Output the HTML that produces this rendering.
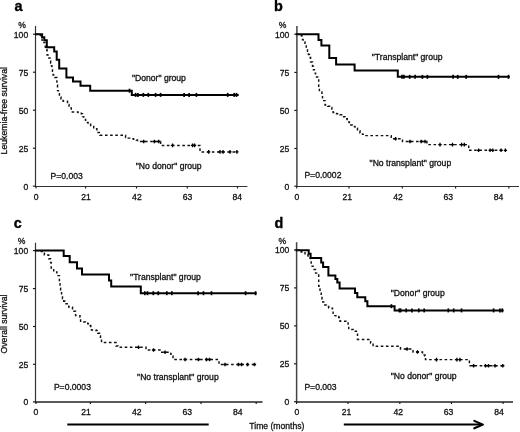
<!DOCTYPE html>
<html><head><meta charset="utf-8"><style>
html,body{margin:0;padding:0;background:#fff;}
svg{display:block;font-family:"Liberation Sans", sans-serif;filter:grayscale(1);}
text{fill:#111;stroke:#111;stroke-width:0.3px;}
text.L{fill:#000;stroke:#000;stroke-width:0.35px;}
</style></head><body>
<svg width="520" height="432" viewBox="0 0 520 432">
<rect width="520" height="432" fill="#fff"/>
<line x1="35.5" y1="26" x2="35.5" y2="187.1" stroke="#333" stroke-width="1.2"/>
<line x1="34.9" y1="186.5" x2="247.4" y2="186.5" stroke="#333" stroke-width="1.2"/>
<line x1="32.9" y1="34.2" x2="35.5" y2="34.2" stroke="#1a1a1a" stroke-width="1.15"/>
<line x1="32.9" y1="72.2" x2="35.5" y2="72.2" stroke="#1a1a1a" stroke-width="1.15"/>
<line x1="32.9" y1="110.2" x2="35.5" y2="110.2" stroke="#1a1a1a" stroke-width="1.15"/>
<line x1="32.9" y1="148.2" x2="35.5" y2="148.2" stroke="#1a1a1a" stroke-width="1.15"/>
<line x1="32.9" y1="186.2" x2="35.5" y2="186.2" stroke="#1a1a1a" stroke-width="1.15"/>
<line x1="36" y1="186.5" x2="36" y2="188.5" stroke="#1a1a1a" stroke-width="1.15"/>
<line x1="85.6" y1="186.5" x2="85.6" y2="188.5" stroke="#1a1a1a" stroke-width="1.15"/>
<line x1="136.5" y1="186.5" x2="136.5" y2="188.5" stroke="#1a1a1a" stroke-width="1.15"/>
<line x1="187.3" y1="186.5" x2="187.3" y2="188.5" stroke="#1a1a1a" stroke-width="1.15"/>
<line x1="237.5" y1="186.5" x2="237.5" y2="188.5" stroke="#1a1a1a" stroke-width="1.15"/>
<text x="28.2" y="37.6" font-size="8.6" text-anchor="end" font-weight="normal" >100</text>
<text x="28.2" y="75.60000000000001" font-size="8.6" text-anchor="end" font-weight="normal" >75</text>
<text x="28.2" y="113.60000000000001" font-size="8.6" text-anchor="end" font-weight="normal" >50</text>
<text x="28.2" y="151.6" font-size="8.6" text-anchor="end" font-weight="normal" >25</text>
<text x="28.2" y="189.6" font-size="8.6" text-anchor="end" font-weight="normal" >0</text>
<text x="36.1" y="200" font-size="8.6" text-anchor="middle" font-weight="normal" >0</text>
<text x="86.1" y="200" font-size="8.6" text-anchor="middle" font-weight="normal" >21</text>
<text x="136.9" y="200" font-size="8.6" text-anchor="middle" font-weight="normal" >42</text>
<text x="187.6" y="200" font-size="8.6" text-anchor="middle" font-weight="normal" >63</text>
<text x="237.3" y="200" font-size="8.6" text-anchor="middle" font-weight="normal" >84</text>
<text x="22" y="28.0" font-size="8.6" text-anchor="middle" font-weight="normal" >%</text>
<text x="14.6" y="10.5" font-size="14.4" text-anchor="start" font-weight="bold" class="L">a</text>
<line x1="296.9" y1="26" x2="296.9" y2="187.1" stroke="#444" stroke-width="1.5"/>
<line x1="296.29999999999995" y1="186.5" x2="519" y2="186.5" stroke="#333" stroke-width="1.2"/>
<line x1="294.29999999999995" y1="34.2" x2="296.9" y2="34.2" stroke="#1a1a1a" stroke-width="1.15"/>
<line x1="294.29999999999995" y1="72.4" x2="296.9" y2="72.4" stroke="#1a1a1a" stroke-width="1.15"/>
<line x1="294.29999999999995" y1="110.4" x2="296.9" y2="110.4" stroke="#1a1a1a" stroke-width="1.15"/>
<line x1="294.29999999999995" y1="148.5" x2="296.9" y2="148.5" stroke="#1a1a1a" stroke-width="1.15"/>
<line x1="294.29999999999995" y1="186.2" x2="296.9" y2="186.2" stroke="#1a1a1a" stroke-width="1.15"/>
<line x1="296.7" y1="186.5" x2="296.7" y2="188.5" stroke="#1a1a1a" stroke-width="1.15"/>
<line x1="349" y1="186.5" x2="349" y2="188.5" stroke="#1a1a1a" stroke-width="1.15"/>
<line x1="402.3" y1="186.5" x2="402.3" y2="188.5" stroke="#1a1a1a" stroke-width="1.15"/>
<line x1="455.6" y1="186.5" x2="455.6" y2="188.5" stroke="#1a1a1a" stroke-width="1.15"/>
<line x1="508.9" y1="186.5" x2="508.9" y2="188.5" stroke="#1a1a1a" stroke-width="1.15"/>
<text x="289.4" y="37.6" font-size="8.6" text-anchor="end" font-weight="normal" >100</text>
<text x="289.4" y="75.80000000000001" font-size="8.6" text-anchor="end" font-weight="normal" >75</text>
<text x="289.4" y="113.80000000000001" font-size="8.6" text-anchor="end" font-weight="normal" >50</text>
<text x="289.4" y="151.9" font-size="8.6" text-anchor="end" font-weight="normal" >25</text>
<text x="289.4" y="189.6" font-size="8.6" text-anchor="end" font-weight="normal" >0</text>
<text x="297" y="200" font-size="8.6" text-anchor="middle" font-weight="normal" >0</text>
<text x="347.3" y="200" font-size="8.6" text-anchor="middle" font-weight="normal" >21</text>
<text x="398" y="200" font-size="8.6" text-anchor="middle" font-weight="normal" >42</text>
<text x="448.3" y="200" font-size="8.6" text-anchor="middle" font-weight="normal" >63</text>
<text x="498.6" y="200" font-size="8.6" text-anchor="middle" font-weight="normal" >84</text>
<text x="282.5" y="28.0" font-size="8.6" text-anchor="middle" font-weight="normal" >%</text>
<text x="274.0" y="10.7" font-size="14.4" text-anchor="start" font-weight="bold" class="L">b</text>
<line x1="35.5" y1="242.7" x2="35.5" y2="402.6" stroke="#333" stroke-width="1.2"/>
<line x1="34.9" y1="402" x2="262.5" y2="402" stroke="#222" stroke-width="1.4"/>
<line x1="32.9" y1="250.6" x2="35.5" y2="250.6" stroke="#1a1a1a" stroke-width="1.15"/>
<line x1="32.9" y1="288.6" x2="35.5" y2="288.6" stroke="#1a1a1a" stroke-width="1.15"/>
<line x1="32.9" y1="326.5" x2="35.5" y2="326.5" stroke="#1a1a1a" stroke-width="1.15"/>
<line x1="32.9" y1="364.3" x2="35.5" y2="364.3" stroke="#1a1a1a" stroke-width="1.15"/>
<line x1="32.9" y1="401.9" x2="35.5" y2="401.9" stroke="#1a1a1a" stroke-width="1.15"/>
<line x1="36" y1="402" x2="36" y2="404.0" stroke="#1a1a1a" stroke-width="1.15"/>
<line x1="90.4" y1="402" x2="90.4" y2="404.0" stroke="#1a1a1a" stroke-width="1.15"/>
<line x1="145.6" y1="402" x2="145.6" y2="404.0" stroke="#1a1a1a" stroke-width="1.15"/>
<line x1="201" y1="402" x2="201" y2="404.0" stroke="#1a1a1a" stroke-width="1.15"/>
<line x1="256.2" y1="402" x2="256.2" y2="404.0" stroke="#1a1a1a" stroke-width="1.15"/>
<text x="28.2" y="254.0" font-size="8.6" text-anchor="end" font-weight="normal" >100</text>
<text x="28.2" y="292.0" font-size="8.6" text-anchor="end" font-weight="normal" >75</text>
<text x="28.2" y="329.9" font-size="8.6" text-anchor="end" font-weight="normal" >50</text>
<text x="28.2" y="367.7" font-size="8.6" text-anchor="end" font-weight="normal" >25</text>
<text x="28.2" y="405.29999999999995" font-size="8.6" text-anchor="end" font-weight="normal" >0</text>
<text x="36" y="415.1" font-size="8.6" text-anchor="middle" font-weight="normal" >0</text>
<text x="86" y="415.1" font-size="8.6" text-anchor="middle" font-weight="normal" >21</text>
<text x="136.7" y="415.1" font-size="8.6" text-anchor="middle" font-weight="normal" >42</text>
<text x="187.2" y="415.1" font-size="8.6" text-anchor="middle" font-weight="normal" >63</text>
<text x="237.7" y="415.1" font-size="8.6" text-anchor="middle" font-weight="normal" >84</text>
<text x="21.5" y="244" font-size="8.6" text-anchor="middle" font-weight="normal" >%</text>
<text x="13.8" y="228.0" font-size="14.4" text-anchor="start" font-weight="bold" class="L">c</text>
<line x1="296.6" y1="242.2" x2="296.6" y2="402.6" stroke="#444" stroke-width="1.5"/>
<line x1="296.0" y1="402" x2="513" y2="402" stroke="#222" stroke-width="1.4"/>
<line x1="294.0" y1="249.9" x2="296.6" y2="249.9" stroke="#1a1a1a" stroke-width="1.15"/>
<line x1="294.0" y1="287.9" x2="296.6" y2="287.9" stroke="#1a1a1a" stroke-width="1.15"/>
<line x1="294.0" y1="325.9" x2="296.6" y2="325.9" stroke="#1a1a1a" stroke-width="1.15"/>
<line x1="294.0" y1="363.8" x2="296.6" y2="363.8" stroke="#1a1a1a" stroke-width="1.15"/>
<line x1="294.0" y1="401.7" x2="296.6" y2="401.7" stroke="#1a1a1a" stroke-width="1.15"/>
<line x1="296.5" y1="402" x2="296.5" y2="404.0" stroke="#1a1a1a" stroke-width="1.15"/>
<line x1="348" y1="402" x2="348" y2="404.0" stroke="#1a1a1a" stroke-width="1.15"/>
<line x1="399.8" y1="402" x2="399.8" y2="404.0" stroke="#1a1a1a" stroke-width="1.15"/>
<line x1="451.5" y1="402" x2="451.5" y2="404.0" stroke="#1a1a1a" stroke-width="1.15"/>
<line x1="503.1" y1="402" x2="503.1" y2="404.0" stroke="#1a1a1a" stroke-width="1.15"/>
<text x="289.3" y="253.3" font-size="8.6" text-anchor="end" font-weight="normal" >100</text>
<text x="289.3" y="291.29999999999995" font-size="8.6" text-anchor="end" font-weight="normal" >75</text>
<text x="289.3" y="329.29999999999995" font-size="8.6" text-anchor="end" font-weight="normal" >50</text>
<text x="289.3" y="367.2" font-size="8.6" text-anchor="end" font-weight="normal" >25</text>
<text x="289.3" y="405.09999999999997" font-size="8.6" text-anchor="end" font-weight="normal" >0</text>
<text x="297" y="415.1" font-size="8.6" text-anchor="middle" font-weight="normal" >0</text>
<text x="346.6" y="415.1" font-size="8.6" text-anchor="middle" font-weight="normal" >21</text>
<text x="398.3" y="415.1" font-size="8.6" text-anchor="middle" font-weight="normal" >42</text>
<text x="448.6" y="415.1" font-size="8.6" text-anchor="middle" font-weight="normal" >63</text>
<text x="499" y="415.1" font-size="8.6" text-anchor="middle" font-weight="normal" >84</text>
<text x="282.3" y="244" font-size="8.6" text-anchor="middle" font-weight="normal" >%</text>
<text x="274.4" y="228.1" font-size="14.4" text-anchor="start" font-weight="bold" class="L">d</text>
<path d="M36,34.2 H42.1 V37.2 H44.3 V40.2 H46.8 V47.2 H54.2 V51.4 H56.7 V59.8 H59.2 V68.6 H66.4 V77.4 H73 V81.6 H80.5 V85.8 H90.2 V90.7 H131.8 V94.9 H237.7" fill="none" stroke="#000" stroke-width="2" stroke-linejoin="miter" stroke-linecap="square"/>
<line x1="135.6" y1="92.9" x2="135.6" y2="96.9" stroke="#000" stroke-width="1.7"/>
<line x1="137.9" y1="92.9" x2="137.9" y2="96.9" stroke="#000" stroke-width="1.7"/>
<line x1="143.3" y1="92.9" x2="143.3" y2="96.9" stroke="#000" stroke-width="1.7"/>
<line x1="148.3" y1="92.9" x2="148.3" y2="96.9" stroke="#000" stroke-width="1.7"/>
<line x1="155.6" y1="92.9" x2="155.6" y2="96.9" stroke="#000" stroke-width="1.7"/>
<line x1="160.6" y1="92.9" x2="160.6" y2="96.9" stroke="#000" stroke-width="1.7"/>
<line x1="184.1" y1="92.9" x2="184.1" y2="96.9" stroke="#000" stroke-width="1.7"/>
<line x1="189.1" y1="92.9" x2="189.1" y2="96.9" stroke="#000" stroke-width="1.7"/>
<line x1="196.4" y1="92.9" x2="196.4" y2="96.9" stroke="#000" stroke-width="1.7"/>
<line x1="227.7" y1="92.9" x2="227.7" y2="96.9" stroke="#000" stroke-width="1.7"/>
<line x1="234.2" y1="92.9" x2="234.2" y2="96.9" stroke="#000" stroke-width="1.7"/>
<line x1="236.5" y1="92.9" x2="236.5" y2="96.9" stroke="#000" stroke-width="1.7"/>
<line x1="129.5" y1="88.7" x2="129.5" y2="92.7" stroke="#000" stroke-width="1.7"/>
<path d="M36,34.2 H39.60 V35.60 H41.50 V37.00 H42.1 V42.5 H44.90 V44.00 H45.3 V49.4 H46.8 V50.3 H47.1 V55 H48.80 V58.00 H50.00 V61.00 H50.65 V63.30 H51.30 V65.60 H51.90 V68.45 H52.50 V71.30 H53.1 V75 H55.00 V77.50 H56.90 V79.40 H56.9 V85 H57.5 V90.6 H58.45 V93.75 H59.40 V96.90 H61.00 V99.00 H63.10 V101.30 H67.50 V104.40 H69.00 V108.00 H71.30 V111.90 H78.1 V112.5 H81.30 V113.80 H82.50 V116.60 H83.70 V119.40 H85.60 V122.50 H88.10 V124.05 H90.60 V125.60 H93.70 V128.80 H96.90 V132.50 H100.00 V135.20 H125.6 V137.5 H128.28 V138.12 H130.95 V138.75 H133.62 V139.38 H136.30 V140.00 H137.5 V141.5 H160.6 V145.4 H200 V151.9 H237.5 V151.9" fill="none" stroke="#111" stroke-width="1.45" stroke-dasharray="2.6 2.55"/>
<path d="M143.7,139.7 V143.3 M142.1,141.5 H145.29999999999998" stroke="#000" stroke-width="1.35" fill="none"/>
<path d="M154.4,139.7 V143.3 M152.8,141.5 H156.0" stroke="#000" stroke-width="1.35" fill="none"/>
<path d="M158.7,139.7 V143.3 M157.1,141.5 H160.29999999999998" stroke="#000" stroke-width="1.35" fill="none"/>
<path d="M172.5,143.6 V147.20000000000002 M170.9,145.4 H174.1" stroke="#000" stroke-width="1.35" fill="none"/>
<path d="M192.5,143.6 V147.20000000000002 M190.9,145.4 H194.1" stroke="#000" stroke-width="1.35" fill="none"/>
<path d="M194.6,143.6 V147.20000000000002 M193.0,145.4 H196.2" stroke="#000" stroke-width="1.35" fill="none"/>
<path d="M208.7,150.1 V153.70000000000002 M207.1,151.9 H210.29999999999998" stroke="#000" stroke-width="1.35" fill="none"/>
<path d="M220,150.1 V153.70000000000002 M218.4,151.9 H221.6" stroke="#000" stroke-width="1.35" fill="none"/>
<path d="M223,150.1 V153.70000000000002 M221.4,151.9 H224.6" stroke="#000" stroke-width="1.35" fill="none"/>
<path d="M230,150.1 V153.70000000000002 M228.4,151.9 H231.6" stroke="#000" stroke-width="1.35" fill="none"/>
<path d="M236.9,150.1 V153.70000000000002 M235.3,151.9 H238.5" stroke="#000" stroke-width="1.35" fill="none"/>
<path d="M296.7,34.2 H318.5 V40 H321.4 V45.6 H329.3 V58 H336.1 V64.5 H354.6 V70.4 H397.8 V76.85 H508.8" fill="none" stroke="#000" stroke-width="2" stroke-linejoin="miter" stroke-linecap="square"/>
<line x1="402" y1="74.85" x2="402" y2="78.85" stroke="#000" stroke-width="1.7"/>
<line x1="403.9" y1="74.85" x2="403.9" y2="78.85" stroke="#000" stroke-width="1.7"/>
<line x1="409.7" y1="74.85" x2="409.7" y2="78.85" stroke="#000" stroke-width="1.7"/>
<line x1="415.1" y1="74.85" x2="415.1" y2="78.85" stroke="#000" stroke-width="1.7"/>
<line x1="422.4" y1="74.85" x2="422.4" y2="78.85" stroke="#000" stroke-width="1.7"/>
<line x1="427.4" y1="74.85" x2="427.4" y2="78.85" stroke="#000" stroke-width="1.7"/>
<line x1="453.1" y1="74.85" x2="453.1" y2="78.85" stroke="#000" stroke-width="1.7"/>
<line x1="457.7" y1="74.85" x2="457.7" y2="78.85" stroke="#000" stroke-width="1.7"/>
<line x1="466.2" y1="74.85" x2="466.2" y2="78.85" stroke="#000" stroke-width="1.7"/>
<line x1="498.5" y1="74.85" x2="498.5" y2="78.85" stroke="#000" stroke-width="1.7"/>
<line x1="508.5" y1="74.85" x2="508.5" y2="78.85" stroke="#000" stroke-width="1.7"/>
<path d="M296.7,34.2 H299.30 V35.55 H301.90 V36.90 H302.50 V39.40 H303.10 V41.90 H305.00 V45.00 H306.25 V48.15 H307.50 V51.30 H308.45 V54.40 H309.40 V57.50 H310.60 V61.90 H312.50 V66.30 H313.45 V69.70 H314.40 V73.10 H315.60 V76.90 H318.70 V81.30 H318.7 V86.9 H319.4 V91.9 H321.90 V95.60 H322.5 V100.6 H325.00 V105.00 H327.80 V106.25 H330.60 V107.50 H331.85 V110.00 H333.10 V112.50 H336.55 V113.65 H340.00 V114.80 H342.50 V116.80 H345.00 V118.80 H347.20 V121.90 H349.40 V125.00 H352.20 V126.55 H355.00 V128.10 H357.50 V130.60 H360.00 V133.10 H362.50 V134.35 H365.00 V135.60 H389.4 V135.6 H391.20 V138.80 H398.5 V138.8 H402.50 V141.50 H426.9 V144.6 H468.7 V150.3 H505.4 V150.3" fill="none" stroke="#111" stroke-width="1.45" stroke-dasharray="2.6 2.55"/>
<path d="M395.6,137.0 V140.60000000000002 M394.0,138.8 H397.20000000000005" stroke="#000" stroke-width="1.35" fill="none"/>
<path d="M410,139.7 V143.3 M408.4,141.5 H411.6" stroke="#000" stroke-width="1.35" fill="none"/>
<path d="M421.2,139.7 V143.3 M419.59999999999997,141.5 H422.8" stroke="#000" stroke-width="1.35" fill="none"/>
<path d="M425,139.7 V143.3 M423.4,141.5 H426.6" stroke="#000" stroke-width="1.35" fill="none"/>
<path d="M440,142.79999999999998 V146.4 M438.4,144.6 H441.6" stroke="#000" stroke-width="1.35" fill="none"/>
<path d="M452.5,142.79999999999998 V146.4 M450.9,144.6 H454.1" stroke="#000" stroke-width="1.35" fill="none"/>
<path d="M461.6,142.79999999999998 V146.4 M460.0,144.6 H463.20000000000005" stroke="#000" stroke-width="1.35" fill="none"/>
<path d="M464.3,142.79999999999998 V146.4 M462.7,144.6 H465.90000000000003" stroke="#000" stroke-width="1.35" fill="none"/>
<path d="M478.6,148.5 V152.10000000000002 M477.0,150.3 H480.20000000000005" stroke="#000" stroke-width="1.35" fill="none"/>
<path d="M490.1,148.5 V152.10000000000002 M488.5,150.3 H491.70000000000005" stroke="#000" stroke-width="1.35" fill="none"/>
<path d="M492.8,148.5 V152.10000000000002 M491.2,150.3 H494.40000000000003" stroke="#000" stroke-width="1.35" fill="none"/>
<path d="M501,148.5 V152.10000000000002 M499.4,150.3 H502.6" stroke="#000" stroke-width="1.35" fill="none"/>
<path d="M505.4,148.5 V152.10000000000002 M503.79999999999995,150.3 H507.0" stroke="#000" stroke-width="1.35" fill="none"/>
<path d="M36,250.6 H63.7 V256 H69.7 V262.3 H77 V268.5 H82 V274.4 H109 V280.6 H111.2 V286.4 H140.8 V293.2 H255.6" fill="none" stroke="#000" stroke-width="2" stroke-linejoin="miter" stroke-linecap="square"/>
<line x1="144.8" y1="291.2" x2="144.8" y2="295.2" stroke="#000" stroke-width="1.7"/>
<line x1="147.5" y1="291.2" x2="147.5" y2="295.2" stroke="#000" stroke-width="1.7"/>
<line x1="153.3" y1="291.2" x2="153.3" y2="295.2" stroke="#000" stroke-width="1.7"/>
<line x1="158.3" y1="291.2" x2="158.3" y2="295.2" stroke="#000" stroke-width="1.7"/>
<line x1="166.8" y1="291.2" x2="166.8" y2="295.2" stroke="#000" stroke-width="1.7"/>
<line x1="171.8" y1="291.2" x2="171.8" y2="295.2" stroke="#000" stroke-width="1.7"/>
<line x1="198.1" y1="291.2" x2="198.1" y2="295.2" stroke="#000" stroke-width="1.7"/>
<line x1="203.5" y1="291.2" x2="203.5" y2="295.2" stroke="#000" stroke-width="1.7"/>
<line x1="211.5" y1="291.2" x2="211.5" y2="295.2" stroke="#000" stroke-width="1.7"/>
<line x1="245.6" y1="291.2" x2="245.6" y2="295.2" stroke="#000" stroke-width="1.7"/>
<line x1="255.6" y1="291.2" x2="255.6" y2="295.2" stroke="#000" stroke-width="1.7"/>
<path d="M36,250.6 H41.2 V251.5 H44.40 V255.00 H48.70 V258.70 H50.60 V262.50 H51.2 V268 H53.70 V271.90 H56.90 V275.60 H59.40 V277.50 H59.4 V283.7 H60 V288.1 H60.6 V291.3 H61.55 V295.00 H62.50 V298.70 H63.75 V301.20 H65.00 V303.70 H68.70 V306.90 H72.50 V311.20 H75.60 V315.60 H80.00 V316.90 H80.6 V321.9 H85.5 V322 H87.75 V323.75 H90.00 V325.50 H90.75 V327.75 H91.50 V330.00 H96 V330.5 H97.75 V333.25 H99.50 V336.00 H100.50 V339.25 H101.50 V342.50 H113 V342.5 H116.00 V346.00 H118.00 V347.30 H144.5 V347.3 H146.00 V350.00 H160 V350 H160 V352.2 H170 V352.2 H170 V353.5 H171 V356 H173.00 V359.50 H219 V359.5 H219 V364.5 H255 V364.5" fill="none" stroke="#111" stroke-width="1.45" stroke-dasharray="2.6 2.55"/>
<path d="M138.5,345.5 V349.1 M136.9,347.3 H140.1" stroke="#000" stroke-width="1.35" fill="none"/>
<path d="M153.5,348.2 V351.8 M151.9,350 H155.1" stroke="#000" stroke-width="1.35" fill="none"/>
<path d="M165,350.4 V354.0 M163.4,352.2 H166.6" stroke="#000" stroke-width="1.35" fill="none"/>
<path d="M185,357.7 V361.3 M183.4,359.5 H186.6" stroke="#000" stroke-width="1.35" fill="none"/>
<path d="M198.5,357.7 V361.3 M196.9,359.5 H200.1" stroke="#000" stroke-width="1.35" fill="none"/>
<path d="M206.5,357.7 V361.3 M204.9,359.5 H208.1" stroke="#000" stroke-width="1.35" fill="none"/>
<path d="M209.5,357.7 V361.3 M207.9,359.5 H211.1" stroke="#000" stroke-width="1.35" fill="none"/>
<path d="M225,362.7 V366.3 M223.4,364.5 H226.6" stroke="#000" stroke-width="1.35" fill="none"/>
<path d="M238.5,362.7 V366.3 M236.9,364.5 H240.1" stroke="#000" stroke-width="1.35" fill="none"/>
<path d="M241.5,362.7 V366.3 M239.9,364.5 H243.1" stroke="#000" stroke-width="1.35" fill="none"/>
<path d="M247.5,362.7 V366.3 M245.9,364.5 H249.1" stroke="#000" stroke-width="1.35" fill="none"/>
<path d="M254.5,362.7 V366.3 M252.9,364.5 H256.1" stroke="#000" stroke-width="1.35" fill="none"/>
<path d="M296.5,250.2 H308.7 V253.7 H310.6 V257.9 H321.2 V262.5 H323.1 V266.9 H328.4 V275.4 H335.4 V279 H337.3 V282.6 H339.6 V288.5 H355 V293.1 H357.3 V297.3 H365.3 V301.3 H367.4 V306.2 H394.6 V310.4 H502.6" fill="none" stroke="#000" stroke-width="2" stroke-linejoin="miter" stroke-linecap="square"/>
<line x1="391.4" y1="304.2" x2="391.4" y2="308.2" stroke="#000" stroke-width="1.7"/>
<line x1="399.3" y1="308.4" x2="399.3" y2="312.4" stroke="#000" stroke-width="1.7"/>
<line x1="400.6" y1="308.4" x2="400.6" y2="312.4" stroke="#000" stroke-width="1.7"/>
<line x1="406.2" y1="308.4" x2="406.2" y2="312.4" stroke="#000" stroke-width="1.7"/>
<line x1="411.9" y1="308.4" x2="411.9" y2="312.4" stroke="#000" stroke-width="1.7"/>
<line x1="418.8" y1="308.4" x2="418.8" y2="312.4" stroke="#000" stroke-width="1.7"/>
<line x1="424.2" y1="308.4" x2="424.2" y2="312.4" stroke="#000" stroke-width="1.7"/>
<line x1="448.3" y1="308.4" x2="448.3" y2="312.4" stroke="#000" stroke-width="1.7"/>
<line x1="453.7" y1="308.4" x2="453.7" y2="312.4" stroke="#000" stroke-width="1.7"/>
<line x1="461.5" y1="308.4" x2="461.5" y2="312.4" stroke="#000" stroke-width="1.7"/>
<line x1="493.6" y1="308.4" x2="493.6" y2="312.4" stroke="#000" stroke-width="1.7"/>
<line x1="499.9" y1="308.4" x2="499.9" y2="312.4" stroke="#000" stroke-width="1.7"/>
<line x1="502.3" y1="308.4" x2="502.3" y2="312.4" stroke="#000" stroke-width="1.7"/>
<path d="M296.5,250.2 H298.85 V251.05 H301.20 V251.90 H305.00 V255.00 H308.10 V258.10 H310.60 V260.60 H311.2 V266.2 H313.10 V269.40 H315.60 V273.10 H318.70 V276.20 H318.7 V286.2 H319.35 V289.05 H320.00 V291.90 H321.2 V296.2 H322.03 V299.13 H322.87 V302.07 H323.70 V305.00 H326.20 V306.55 H328.70 V308.10 H332.50 V311.20 H333.1 V315.6 H335.90 V316.55 H338.70 V317.50 H340.00 V321.20 H343.7 V321.2 H348.10 V325.60 H348.7 V329.4 H353.10 V331.20 H357.50 V335.00 H357.5 V339.4 H368.7 V339.4 H370.60 V343.10 H373.10 V346.20 H397.5 V346.2 H400.50 V349.00 H412 V349 H413 V352 H421.5 V352 H422.5 V355 H425 V356 H425.5 V359.6 H468.8 V359.6 H469.4 V365.7 H502.8 V365.7" fill="none" stroke="#111" stroke-width="1.45" stroke-dasharray="2.6 2.55"/>
<path d="M407,347.2 V350.8 M405.4,349 H408.6" stroke="#000" stroke-width="1.35" fill="none"/>
<path d="M417.5,350.2 V353.8 M415.9,352 H419.1" stroke="#000" stroke-width="1.35" fill="none"/>
<path d="M436.5,357.8 V361.40000000000003 M434.9,359.6 H438.1" stroke="#000" stroke-width="1.35" fill="none"/>
<path d="M456.9,357.8 V361.40000000000003 M455.29999999999995,359.6 H458.5" stroke="#000" stroke-width="1.35" fill="none"/>
<path d="M459.9,357.8 V361.40000000000003 M458.29999999999995,359.6 H461.5" stroke="#000" stroke-width="1.35" fill="none"/>
<path d="M473.6,363.9 V367.5 M472.0,365.7 H475.20000000000005" stroke="#000" stroke-width="1.35" fill="none"/>
<path d="M485.5,363.9 V367.5 M483.9,365.7 H487.1" stroke="#000" stroke-width="1.35" fill="none"/>
<path d="M488.5,363.9 V367.5 M486.9,365.7 H490.1" stroke="#000" stroke-width="1.35" fill="none"/>
<path d="M495,363.9 V367.5 M493.4,365.7 H496.6" stroke="#000" stroke-width="1.35" fill="none"/>
<path d="M502.8,363.9 V367.5 M501.2,365.7 H504.40000000000003" stroke="#000" stroke-width="1.35" fill="none"/>
<text x="132.0" y="81.3" font-size="8.6" text-anchor="start" font-weight="normal" >"Donor" group</text>
<text x="135.8" y="169.0" font-size="8.6" text-anchor="start" font-weight="normal" >"No donor" group</text>
<text x="50.6" y="178.5" font-size="8.6" text-anchor="start" font-weight="normal" >P=0.003</text>
<text x="371.8" y="60.3" font-size="8.6" text-anchor="start" font-weight="normal" >"Transplant" group</text>
<text x="369.6" y="166.0" font-size="8.6" text-anchor="start" font-weight="normal" >"No transplant" group</text>
<text x="304.4" y="177.5" font-size="8.6" text-anchor="start" font-weight="normal" >P=0.0002</text>
<text x="130.1" y="279.5" font-size="8.6" text-anchor="start" font-weight="normal" >"Transplant" group</text>
<text x="137.1" y="379.5" font-size="8.6" text-anchor="start" font-weight="normal" >"No transplant" group</text>
<text x="53.9" y="390.0" font-size="8.6" text-anchor="start" font-weight="normal" >P=0.0003</text>
<text x="390.8" y="296.4" font-size="8.6" text-anchor="start" font-weight="normal" >"Donor" group</text>
<text x="390.8" y="378.6" font-size="8.6" text-anchor="start" font-weight="normal" >"No donor" group</text>
<text x="304.4" y="389.6" font-size="8.6" text-anchor="start" font-weight="normal" >P=0.003</text>
<text x="249.3" y="428.6" font-size="8.6" text-anchor="start" font-weight="normal" >Time (months)</text>
<text transform="translate(7.4,110.75) rotate(-90)" font-size="8.7" text-anchor="middle">Leukemia-free survival</text>
<text transform="translate(7.4,324) rotate(-90)" font-size="8.6" text-anchor="middle">Overall survival</text>
<line x1="67.3" y1="424.6" x2="208.7" y2="424.6" stroke="#000" stroke-width="2"/>
<line x1="343.8" y1="424.6" x2="482" y2="424.6" stroke="#000" stroke-width="2"/>
<path d="M474.3,420.9 L482.9,424.6 L474.3,428.3" fill="none" stroke="#000" stroke-width="2.1" stroke-linecap="round" stroke-linejoin="round"/>
</svg>
</body></html>
